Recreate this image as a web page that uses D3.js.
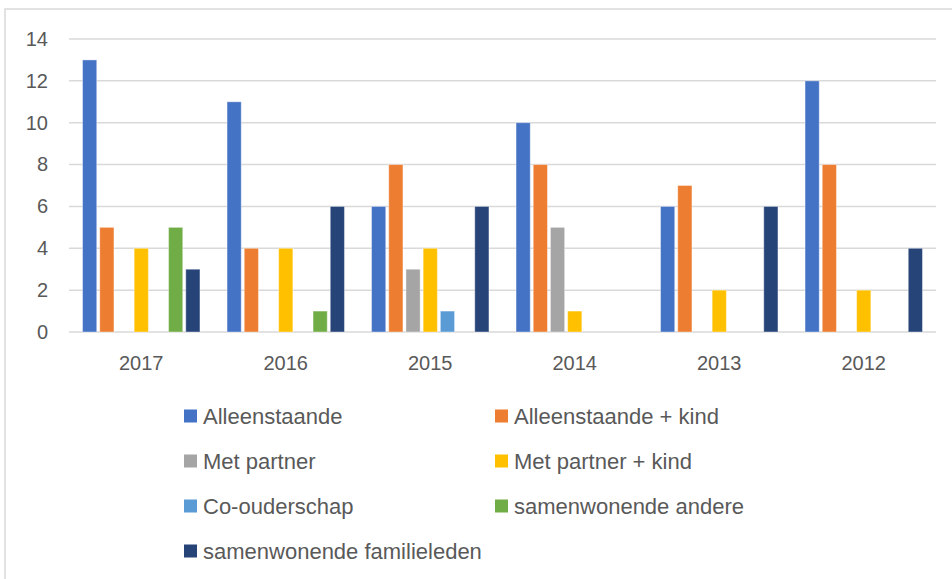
<!DOCTYPE html>
<html>
<head>
<meta charset="utf-8">
<script src="https://cdn.jsdelivr.net/npm/d3@7"></script>
<style>
  body { margin: 0; background: #fff; }
  svg text { font-family: "Liberation Sans", Arial, sans-serif; fill: #595959; }
</style>
</head>
<body>
<div id="chart"></div>
<script>
// categories and series
var years = ["2017", "2016", "2015", "2014", "2013", "2012"];
var seriesNames = ["Alleenstaande", "Alleenstaande + kind", "Met partner", "Met partner + kind",
    "Co-ouderschap", "samenwonende andere", "samenwonende familieleden"];
var seriesColors = ["#4472c4", "#ed7d31", "#a5a5a5", "#ffc000", "#5b9bd5", "#70ad47", "#264478"];

var alleenstaande        = [13, 11, 6, 10, 6, 12];
var alleenstaandeKind    = [5, 4, 8, 8, 7, 8];
var metPartner           = [0, 0, 3, 5, 0, 0];
var metPartnerKind       = [4, 4, 4, 1, 2, 2];
var coOuderschap         = [0, 0, 1, 0, 0, 0];
var samenwonendeAndere   = [5, 1, 0, 0, 0, 0];
var samenwonendeFamilie  = [3, 6, 6, 0, 6, 4];
var yTicks = [0, 2, 4, 6, 8, 10, 12, 14];

var seriesValues = [alleenstaande, alleenstaandeKind, metPartner, metPartnerKind,
    coOuderschap, samenwonendeAndere, samenwonendeFamilie];

var width = 952, height = 579;
var margin = { top: 39, right: 16, bottom: 247, left: 69 };
var innerW = width - margin.left - margin.right,
    innerH = height - margin.top - margin.bottom;

var svg = d3.select("#chart").append("svg")
    .attr("width", width)
    .attr("height", height);

// outer frame (only left and top visible)
svg.append("rect")
    .attr("x", 5).attr("y", 9)
    .attr("width", 960).attr("height", 600)
    .attr("fill", "none")
    .attr("stroke", "#d9d9d9")
    .attr("stroke-width", 1.5);

var g = svg.append("g")
    .attr("transform", "translate(" + margin.left + "," + margin.top + ")");

var x0 = d3.scaleBand()
    .domain(years)
    .range([0, innerW])
    .paddingInner(0)
    .paddingOuter(0);

// gap width ~20% of a category -> 0.7 step on each side of the 7 bars
var x1 = d3.scaleBand()
    .domain(d3.range(seriesNames.length))
    .range([0, x0.bandwidth()])
    .paddingOuter(0.7)
    .paddingInner(0);

var y = d3.scaleLinear()
    .domain([0, 14])
    .range([innerH, 0]);

// gridlines
g.append("g")
    .selectAll("line")
    .data(yTicks)
    .enter()
    .append("line")
    .attr("x1", 0)
    .attr("x2", innerW)
    .attr("y1", function(d) { return y(d); })
    .attr("y2", function(d) { return y(d); })
    .attr("stroke", "#d9d9d9")
    .attr("stroke-width", 1.5);

// y axis labels
var yAxis = g.append("g")
    .call(d3.axisLeft(y).tickValues(yTicks).tickSize(0).tickPadding(21));
yAxis.select(".domain").remove();
yAxis.selectAll("text")
    .style("font-size", "20px")
    .attr("fill", "#595959");

// x axis labels
var xAxis = g.append("g")
    .attr("transform", "translate(0," + innerH + ")")
    .call(d3.axisBottom(x0).tickSize(0).tickPadding(24));
xAxis.select(".domain").remove();
xAxis.selectAll("text")
    .style("font-size", "20px")
    .attr("fill", "#595959");

// bars
var groups = g.selectAll(".year")
    .data(years)
    .enter()
    .append("g")
    .attr("class", "year")
    .attr("transform", function(d) { return "translate(" + x0(d) + ",0)"; });

groups.selectAll("rect")
    .data(function(d, i) {
        return seriesValues.map(function(vals, s) { return { s: s, value: vals[i] }; });
    })
    .enter()
    .filter(function(d) { return d.value > 0; })
    .append("rect")
    .attr("x", function(d) { return x1(d.s) + 1.5; })
    .attr("width", x1.bandwidth() - 3)
    .attr("y", function(d) { return y(d.value); })
    .attr("height", function(d) { return y(0) - y(d.value); })
    .attr("fill", function(d) { return seriesColors[d.s]; })
    .attr("stroke", "#fff")
    .attr("stroke-opacity", 0.4)
    .attr("stroke-width", 1);

// legend
var legendCols = [184, 495];
var legendRows = [416, 461, 506, 551];
var legend = svg.selectAll(".legend")
    .data(seriesNames)
    .enter()
    .append("g")
    .attr("class", "legend")
    .attr("transform", function(d, i) {
        return "translate(" + legendCols[i % 2] + "," + legendRows[Math.floor(i / 2)] + ")";
    });

legend.append("rect")
    .attr("x", 0)
    .attr("y", -6.5)
    .attr("width", 13)
    .attr("height", 13)
    .attr("fill", function(d, i) { return seriesColors[i]; });

legend.append("text")
    .attr("x", 19)
    .attr("y", 0)
    .attr("dy", "0.35em")
    .style("font-size", "22px")
    .text(function(d) { return d; });
</script>
</body>
</html>
